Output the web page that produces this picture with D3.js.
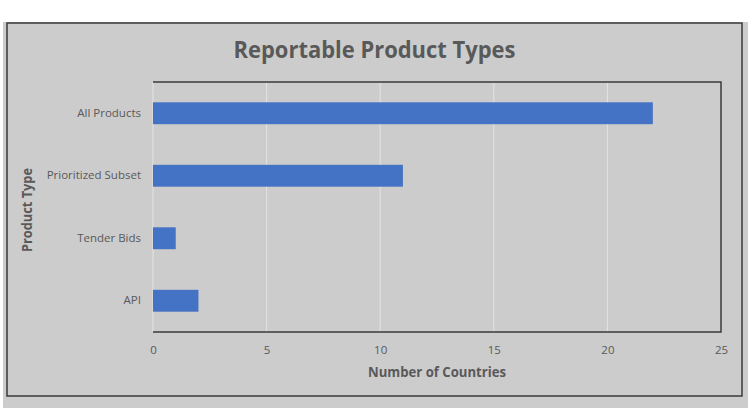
<!DOCTYPE html>
<html>
<head>
<meta charset="utf-8">
<script src="https://cdn.jsdelivr.net/npm/d3@7"></script>
<style>
  html, body { margin: 0; padding: 0; background: #ffffff; }
  svg { display: block; }
  text { font-family: "Open Sans", "Noto Sans", sans-serif; }
</style>
</head>
<body>
<svg id="chart" width="750" height="420"></svg>
<script>
const categories = ["All Products", "Prioritized Subset", "Tender Bids", "API"];
const values = [22, 11, 1, 2];
const xTicks = [0, 5, 10, 15, 20, 25];
const chartTitle = "Reportable Product Types";
const xTitle = "Number of Countries";
const yTitle = "Product Type";

const svg = d3.select("#chart");
const textColor = "#595959";

// outer panel
svg.append("rect").attr("x", 3).attr("y", 22).attr("width", 745).attr("height", 386).attr("fill", "#cccccc");
svg.append("rect").attr("x", 7).attr("y", 23).attr("width", 735).attr("height", 373)
  .attr("fill", "none").attr("stroke", "#3a3a3a").attr("stroke-width", 1.5);

const plot = { left: 153, right: 721, top: 82, bottom: 332 };

const x = d3.scaleLinear().domain([0, 25]).range([plot.left, plot.right]);
const y = d3.scaleBand().domain(categories).range([plot.top, plot.bottom]).paddingInner(0.65).paddingOuter(0.325);

// gridlines
svg.append("g").selectAll("line").data(xTicks.slice(0, -1)).join("line")
  .attr("x1", d => x(d)).attr("x2", d => x(d))
  .attr("y1", plot.top).attr("y2", plot.bottom)
  .attr("stroke", "#e4e4e4").attr("stroke-width", 1);

// bars
svg.append("g").selectAll("rect").data(categories).join("rect")
  .attr("x", x(0))
  .attr("y", d => y(d))
  .attr("width", (d, i) => x(values[i]) - x(0))
  .attr("height", y.bandwidth())
  .attr("fill", "#4472c4");

// frame: top, right, bottom
svg.append("path")
  .attr("d", `M${plot.left},${plot.top}H${plot.right}V${plot.bottom}H${plot.left}`)
  .attr("fill", "none").attr("stroke", "#3a3a3a").attr("stroke-width", 1.5);

// x axis tick labels
const xAxis = d3.axisBottom(x).tickValues(xTicks).tickSize(0).tickPadding(14);
const gx = svg.append("g").attr("transform", `translate(0,${plot.bottom})`).call(xAxis);
gx.select(".domain").remove();
gx.selectAll("text").attr("fill", textColor).style("font-size", "11.5px")
  .style("font-family", '"Open Sans", sans-serif');

// y axis labels
const yAxis = d3.axisLeft(y).tickSize(0).tickPadding(12);
const gy = svg.append("g").attr("transform", `translate(${plot.left},0)`).call(yAxis);
gy.select(".domain").remove();
gy.selectAll("text").attr("fill", textColor).style("font-size", "11.5px")
  .style("font-family", '"Open Sans", sans-serif');

// title
svg.append("text").attr("x", 374.5).attr("y", 58).attr("text-anchor", "middle")
  .attr("fill", textColor).style("font-size", "23px").style("font-weight", "bold")
  .attr("textLength", 282).attr("lengthAdjust", "spacingAndGlyphs")
  .text(chartTitle);

// x title
svg.append("text").attr("x", 437).attr("y", 377).attr("text-anchor", "middle")
  .attr("fill", textColor).style("font-size", "13.5px").style("font-weight", "bold")
  .attr("textLength", 138).attr("lengthAdjust", "spacingAndGlyphs")
  .text(xTitle);

// y title
svg.append("text").attr("transform", "translate(32,210) rotate(-90)").attr("text-anchor", "middle")
  .attr("fill", textColor).style("font-size", "13.5px").style("font-weight", "bold")
  .attr("textLength", 84).attr("lengthAdjust", "spacingAndGlyphs")
  .text(yTitle);
</script>
</body>
</html>
